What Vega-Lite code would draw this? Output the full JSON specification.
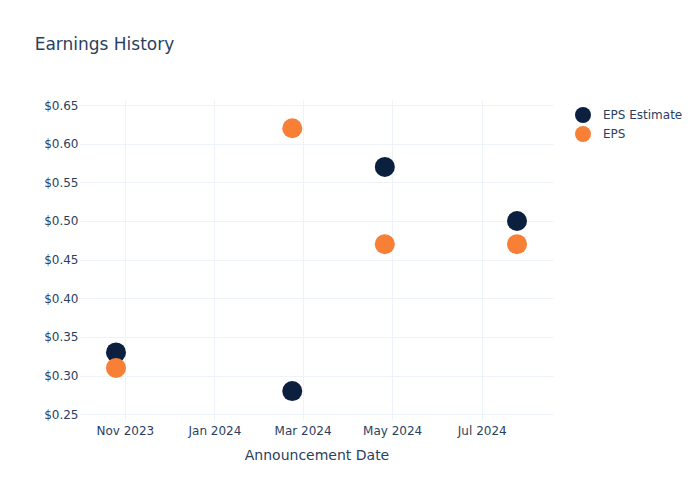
{
  "$schema": "https://vega.github.io/schema/vega-lite/v6.json",
  "autosize": {"type": "none"},
  "width": 473,
  "height": 320,
  "padding": {"left": 80, "top": 100, "right": 147, "bottom": 80},
  "background": "white",
  "title": {
    "text": "Earnings History",
    "anchor": "start",
    "dx": -9,
    "offset": 45,
    "fontSize": 17,
    "fontWeight": "normal",
    "font": "DejaVu Sans",
    "color": "#2a3f5f"
  },
  "data": {
    "values": [
      {"date": "2023-10-26", "series": "EPS Estimate", "value": 0.33},
      {"date": "2024-02-23", "series": "EPS Estimate", "value": 0.28},
      {"date": "2024-04-26", "series": "EPS Estimate", "value": 0.57},
      {"date": "2024-07-25", "series": "EPS Estimate", "value": 0.50},
      {"date": "2023-10-26", "series": "EPS", "value": 0.31},
      {"date": "2024-02-23", "series": "EPS", "value": 0.62},
      {"date": "2024-04-26", "series": "EPS", "value": 0.47},
      {"date": "2024-07-25", "series": "EPS", "value": 0.47}
    ]
  },
  "mark": {"type": "circle", "size": 400, "opacity": 1},
  "encoding": {
    "x": {
      "field": "date",
      "type": "temporal",
      "title": "Announcement Date",
      "scale": {
        "domain": [
          {"year": 2023, "month": "oct", "date": 1, "hours": 12},
          {"year": 2024, "month": "aug", "date": 18, "hours": 12}
        ],
        "nice": false
      },
      "axis": {
        "tickCount": {"interval": "month", "step": 2},
        "format": "%b %Y",
        "labelFlush": false,
        "labelOverlap": false
      }
    },
    "y": {
      "field": "value",
      "type": "quantitative",
      "title": null,
      "scale": {"domain": [0.2426, 0.6565], "nice": false, "zero": false},
      "axis": {
        "values": [0.25, 0.3, 0.35, 0.4, 0.45, 0.5, 0.55, 0.6, 0.65],
        "format": "$.2f"
      }
    },
    "color": {
      "field": "series",
      "type": "nominal",
      "title": null,
      "scale": {"domain": ["EPS Estimate", "EPS"], "range": ["#0b1f3f", "#f77f36"]},
      "legend": {
        "orient": "none",
        "legendX": 494,
        "legendY": 6,
        "symbolSize": 256,
        "symbolType": "circle",
        "symbolOpacity": 1,
        "labelFontSize": 12,
        "labelFont": "DejaVu Sans",
        "labelColor": "#2a3f5f",
        "labelOffset": 11,
        "rowPadding": 2,
        "padding": 0
      }
    },
    "order": {"field": "series", "sort": "descending"}
  },
  "config": {
    "view": {"stroke": null},
    "axis": {
      "domain": false,
      "ticks": false,
      "grid": true,
      "gridColor": "#eef2f9",
      "gridOpacity": 1,
      "labelFont": "DejaVu Sans",
      "labelFontSize": 12,
      "labelColor": "#2a3f5f",
      "titleFont": "DejaVu Sans",
      "titleFontSize": 14,
      "titleFontWeight": "normal",
      "titleColor": "#2a3f5f",
      "labelPadding": 5
    },
    "axisX": {"titlePadding": 12},
    "axisY": {"labelPadding": 2}
  }
}
